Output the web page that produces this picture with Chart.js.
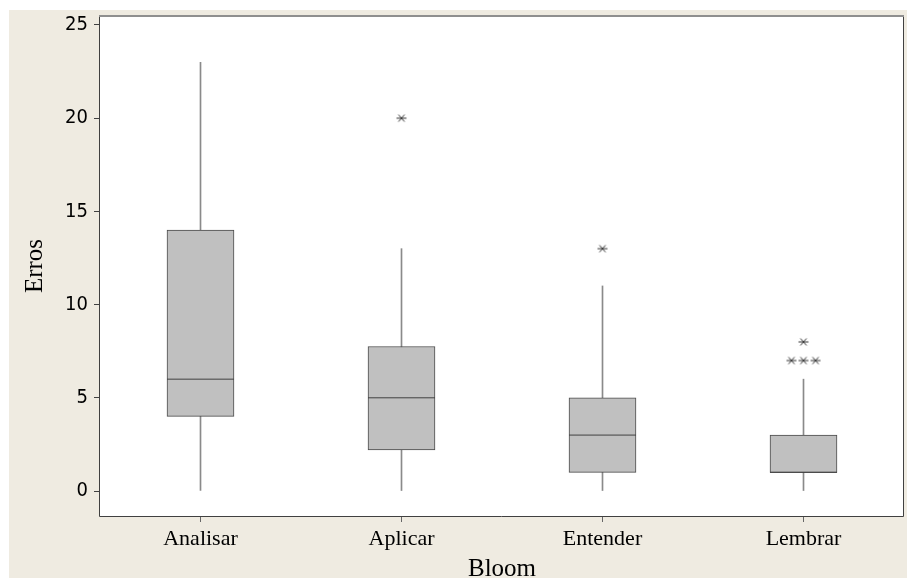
<!DOCTYPE html>
<html>
<head>
<meta charset="utf-8">
<title>Erros por nível de Bloom</title>
<script src="https://cdn.jsdelivr.net/npm/chart.js@4.4.1/dist/chart.umd.min.js"></script>
<style>
  html, body { margin: 0; padding: 0; background: #ffffff; }
  #wrap { position: absolute; left: 9px; top: 10px; width: 898px; height: 568px; }
</style>
</head>
<body>
<div id="wrap"><canvas id="chart"></canvas></div>
<script>
// Box plot summary per Bloom level
const categories = ['Analisar', 'Aplicar', 'Entender', 'Lembrar'];
const whiskerLow = [0, 0, 0, 0];
const q1 = [4, 2.2, 1, 1];
const medians = [6, 5, 3, 1];
const q3 = [14, 7.75, 5, 3];
const whiskerHigh = [23, 13, 11, 6];
const outliers = [[], [20], [13], [8, 7, 7, 7]];
const yTicks = [0, 5, 10, 15, 20, 25];

const PAGE_BG = '#efebe1';
const DARK = '#404040';

// Asterisk marker used for outliers
function makeAsterisk() {
  const c = document.createElement('canvas');
  c.width = 12; c.height = 10;
  const g = c.getContext('2d');
  g.strokeStyle = '#333333';
  g.lineWidth = 1;
  g.beginPath();
  g.moveTo(1, 5); g.lineTo(11, 5);
  g.moveTo(3, 1.5); g.lineTo(9, 8.5);
  g.moveTo(9, 1.5); g.lineTo(3, 8.5);
  g.stroke();
  return c;
}

// Tied outliers are spread sideways around the category centre
const TIE_SPREAD = 0.06;
const outlierPoints = [];
outliers.forEach((vals, i) => {
  const counts = {};
  vals.forEach(v => { counts[v] = (counts[v] || 0) + 1; });
  Object.keys(counts).forEach(k => {
    const n = counts[k];
    for (let j = 0; j < n; j++) {
      outlierPoints.push({ x: i + (j - (n - 1) / 2) * TIE_SPREAD, y: Number(k) });
    }
  });
});

const backgroundPlugin = {
  id: 'panelBackground',
  beforeDraw(chart) {
    const { ctx, chartArea: a, width, height } = chart;
    ctx.save();
    ctx.fillStyle = PAGE_BG;
    ctx.fillRect(0, 0, width, height);
    ctx.fillStyle = '#ffffff';
    ctx.fillRect(a.left, a.top, a.right - a.left, a.bottom - a.top);
    ctx.restore();
  },
  afterDraw(chart) {
    const { ctx, chartArea: a } = chart;
    ctx.save();
    ctx.lineWidth = 1;
    ctx.strokeStyle = DARK;
    ctx.beginPath();
    ctx.moveTo(a.left - 0.5, a.top);
    ctx.lineTo(a.left - 0.5, a.bottom + 0.5);
    ctx.lineTo(a.right - 0.5, a.bottom + 0.5);
    ctx.lineTo(a.right - 0.5, a.top);
    ctx.stroke();
    ctx.strokeStyle = '#8f8f8f';
    ctx.lineWidth = 2;
    ctx.beginPath();
    ctx.moveTo(a.left - 1, a.top);
    ctx.lineTo(a.right, a.top);
    ctx.stroke();
    ctx.restore();
  }
};

const serif = "'Liberation Serif', 'Times New Roman', serif";
const sans = "'DejaVu Sans Condensed', 'DejaVu Sans', sans-serif";

new Chart(document.getElementById('chart'), {
  type: 'bar',
  data: {
    labels: categories,
    datasets: [
      {
        type: 'scatter',
        label: 'Outliers',
        xAxisID: 'x2',
        data: outlierPoints,
        pointStyle: makeAsterisk(),
        pointRadius: 5,
        order: 0
      },
      {
        type: 'scatter',
        label: 'Mediana',
        xAxisID: 'x2',
        data: medians.map((m, i) => ({ x: i, y: m })),
        pointStyle: 'line',
        pointRadius: 33.5,
        borderColor: DARK,
        borderWidth: 1,
        order: 1
      },
      {
        label: 'Caixa',
        data: categories.map((c, i) => [q1[i], q3[i]]),
        backgroundColor: '#c0c0c0',
        borderColor: '#4a4a4a',
        borderWidth: 1,
        borderSkipped: false,
        barThickness: 67,
        grouped: false,
        order: 2
      },
      {
        label: 'Bigodes',
        data: categories.map((c, i) => [whiskerLow[i], whiskerHigh[i]]),
        backgroundColor: '#8a8a8a',
        borderWidth: 0,
        barThickness: 1,
        grouped: false,
        order: 3
      }
    ]
  },
  options: {
    responsive: true,
    maintainAspectRatio: false,
    devicePixelRatio: 1,
    animation: false,
    layout: { autoPadding: false, padding: { left: 0, right: 3, top: 6, bottom: -6 } },
    plugins: { legend: { display: false }, tooltip: { enabled: false } },
    scales: {
      x: {
        type: 'category',
        offset: true,
        grid: { drawOnChartArea: false, offset: false, drawTicks: true, tickLength: 6, color: '#666666' },
        border: { display: false },
        ticks: { color: '#000000', padding: 4, font: { family: serif, size: 22 } },
        title: {
          display: true, text: 'Bloom', color: '#000000',
          font: { family: serif, size: 25 },
          padding: 0
        },
        afterFit(scale) {
          scale.height = 68;
          scale.paddingLeft = 0; scale.paddingRight = 0;
        }
      },
      x2: {
        type: 'linear',
        display: false,
        offset: false,
        min: -0.5,
        max: 3.5
      },
      y: {
        type: 'linear',
        min: -1.34,
        max: 25.48,
        grid: { drawOnChartArea: false, drawTicks: true, tickLength: 6, color: DARK },
        border: { display: false },
        ticks: { color: '#000000', padding: 6, font: { family: sans, size: 20 } },
        afterBuildTicks(scale) { scale.ticks = yTicks.map(v => ({ value: v })); },
        title: {
          display: true, text: 'Erros', color: '#000000',
          font: { family: serif, size: 25, lineHeight: 1 },
          padding: { top: 14, bottom: 0 }
        },
        afterFit(scale) {
          scale.width = 91;
          scale.paddingTop = 0; scale.paddingBottom = 0;
        }
      }
    }
  },
  plugins: [backgroundPlugin]
});
</script>
</body>
</html>
